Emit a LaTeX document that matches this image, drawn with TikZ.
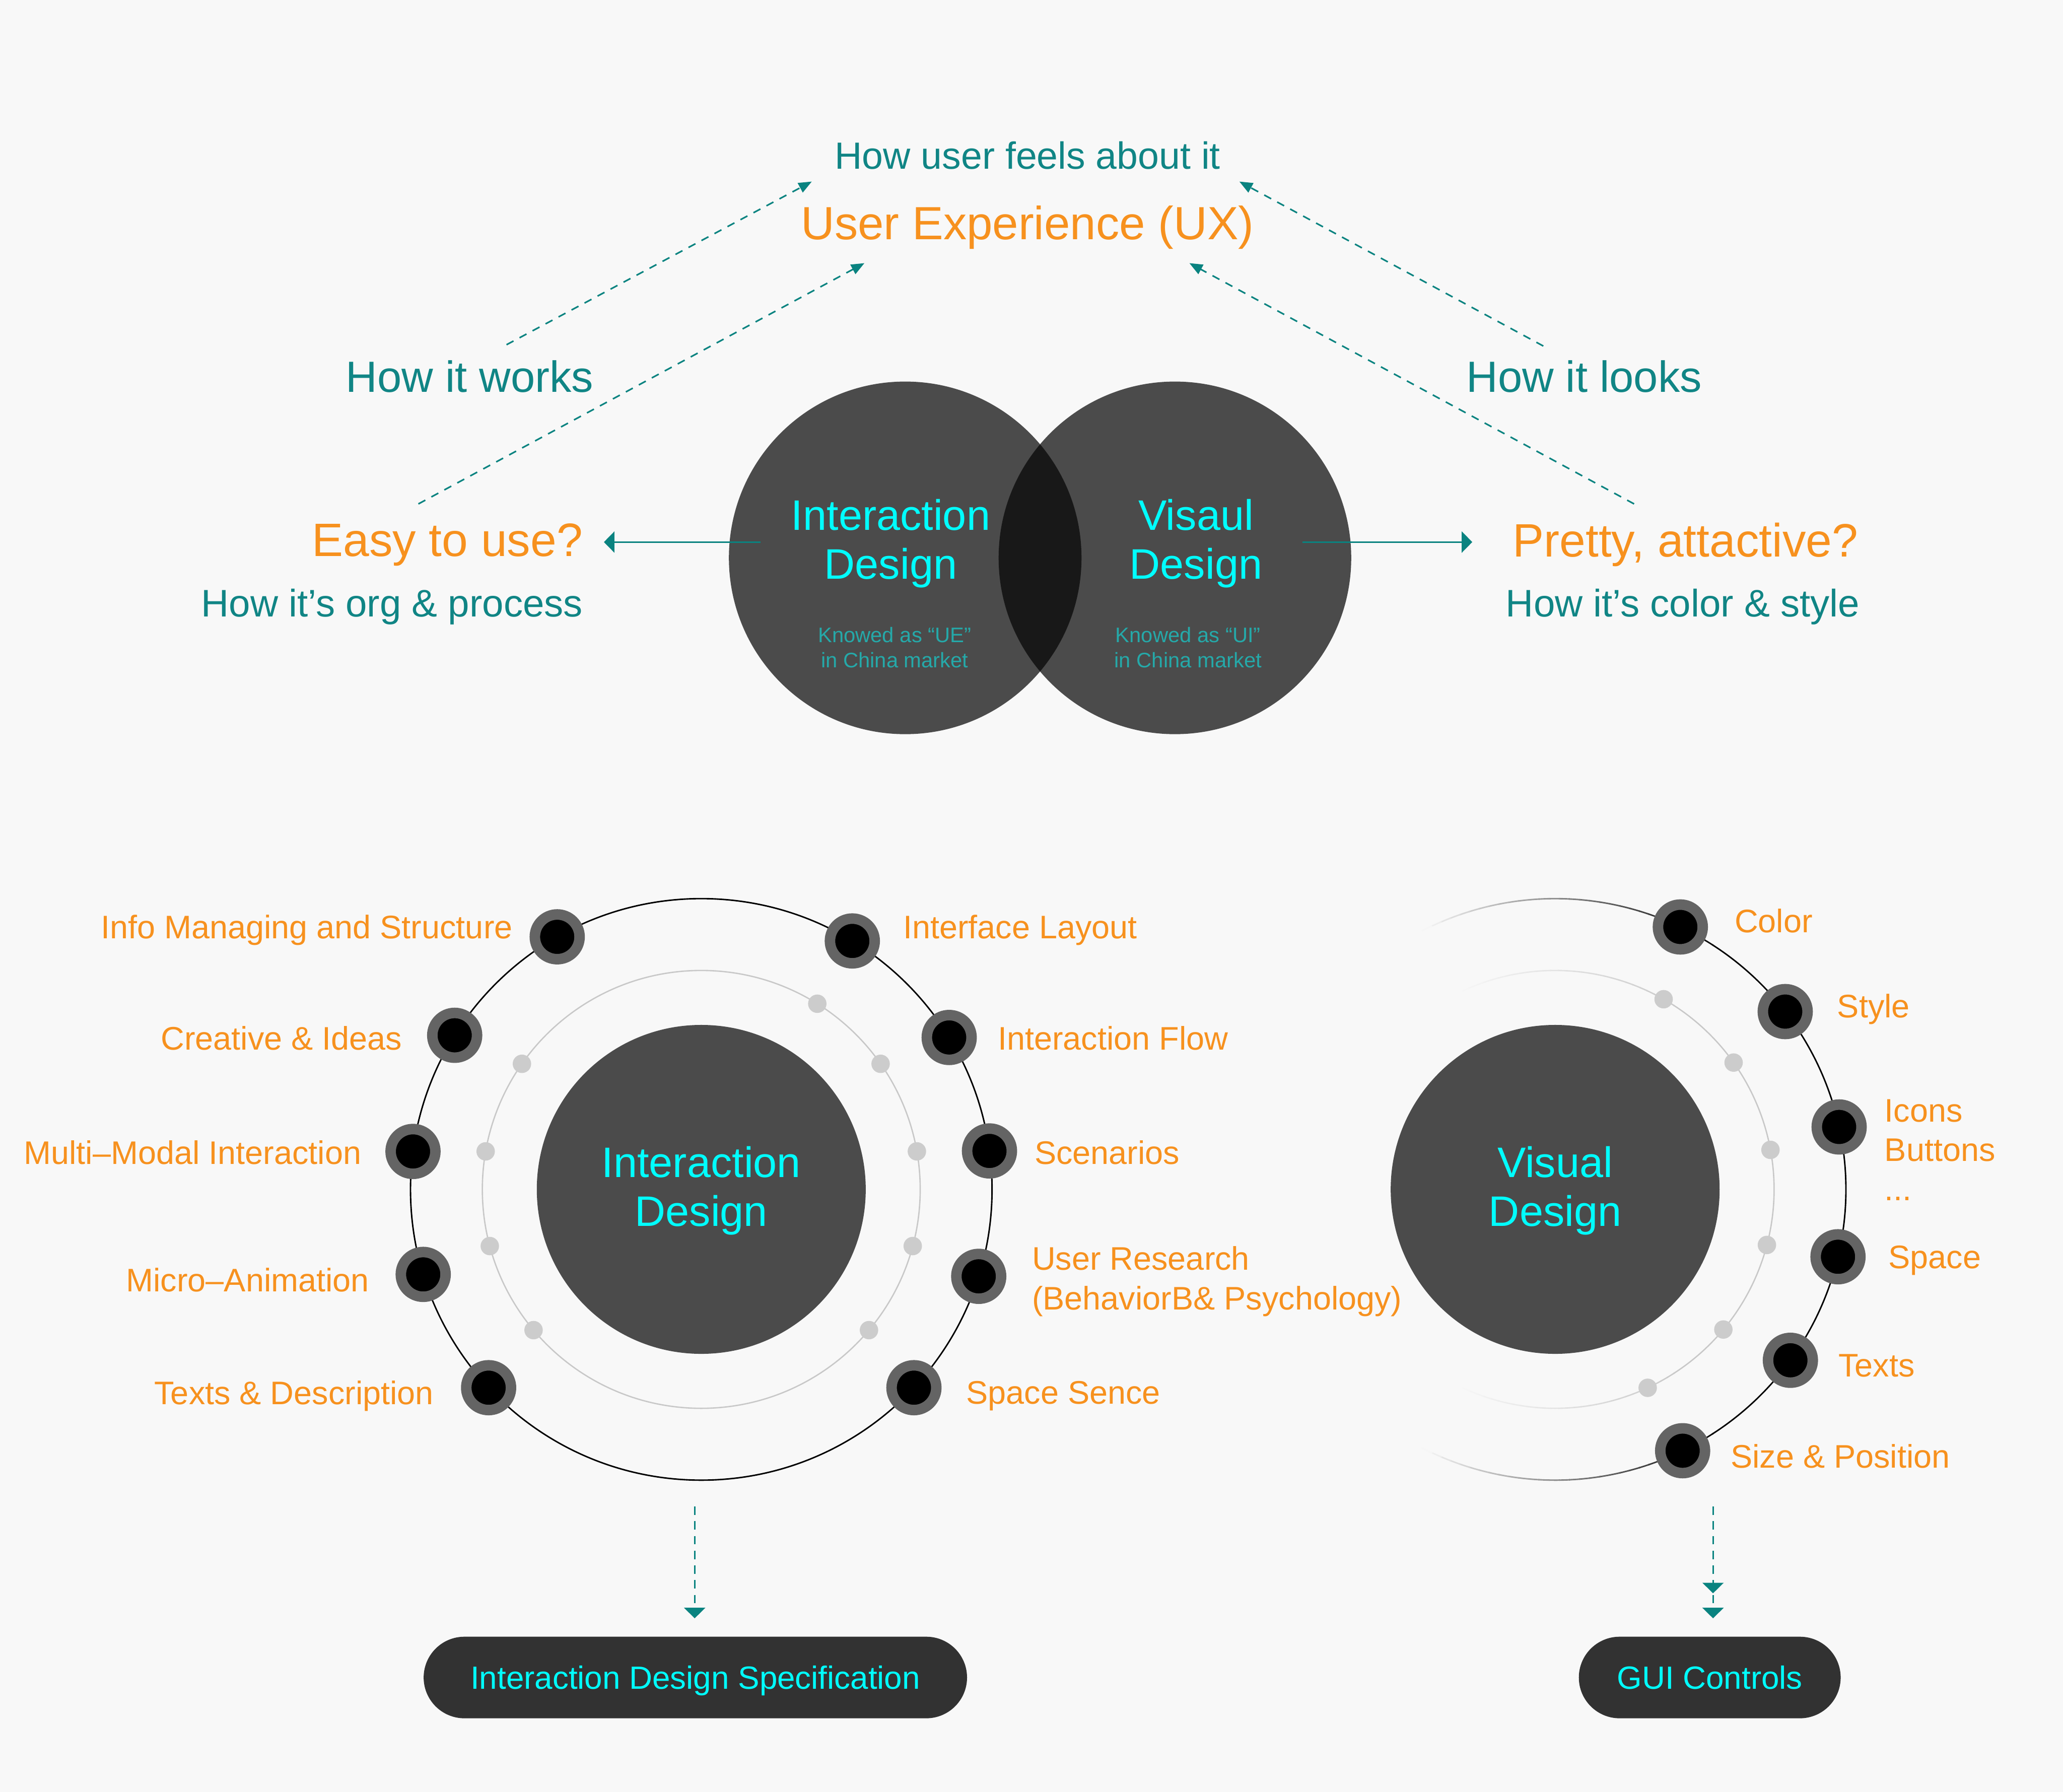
\documentclass[tikz,border=0pt]{standalone}
\usepackage{fontspec}
\setmainfont{Liberation Sans}
\usetikzlibrary{arrows.meta,calc}
\definecolor{bg}{HTML}{F8F8F8}
\definecolor{orng}{HTML}{F7911E}
\definecolor{tealc}{HTML}{0A8380}
\definecolor{tealtx}{HTML}{108585}
\definecolor{cyanc}{HTML}{00FFFF}
\definecolor{knowc}{HTML}{25A9A9}
\definecolor{disc}{HTML}{4B4B4B}
\definecolor{venx}{HTML}{181818}
\definecolor{ringc}{HTML}{646464}
\definecolor{dotc}{HTML}{CCCCCC}
\definecolor{innerc}{HTML}{C8C8C8}
\definecolor{pillc}{HTML}{323232}
\tikzset{
  lbl/.style={text=orng,font=\fontsize{12.4}{15}\selectfont,inner sep=0pt},
  ringnode/.style={circle,fill=black,draw=ringc,line width=4pt,minimum size=17pt,inner sep=0pt},
  dotnode/.style={circle,fill=dotc,minimum size=7pt,inner sep=0pt},
  dashconn/.style={draw=tealc,line width=0.6pt,dash pattern=on 3pt off 2.6pt,-{Triangle[length=5pt,width=4pt]}},
  solidconn/.style={draw=tealc,line width=0.63pt,-{Triangle[length=4pt,width=8pt]}},
  downconn/.style={draw=tealc,line width=0.6pt,dash pattern=on 3.2pt off 2.4pt,-{Triangle[length=4pt,width=8pt]}},
  pill/.style={fill=pillc,rounded corners=15.5pt,minimum height=31pt,text=cyanc,font=\fontsize{12.2}{14}\selectfont,inner sep=0pt,text height=8.8pt,text depth=0pt},
  bigtxt/.style={text=cyanc,font=\fontsize{16.2}{18.5}\selectfont,align=center,inner sep=0pt},
  knowtxt/.style={text=knowc,font=\fontsize{8}{9.6}\selectfont,align=center,inner sep=0pt}
}
\begin{document}
\begin{tikzpicture}[x=0.5pt,y=-0.5pt]
\fill[bg] (0,0) rectangle (1568,1362);
\useasboundingbox (0,0) rectangle (1568,1362);

% ---------- top texts ----------
\node[text=tealtx,font=\fontsize{14.4}{16}\selectfont,inner sep=0pt] (feel) at (781,118) {How user feels about it};
\node[text=orng,font=\fontsize{17.7}{20}\selectfont,inner sep=0pt] (ux) at (781,173) {User Experience (UX)};
\node[text=tealtx,font=\fontsize{16.6}{18}\selectfont,inner sep=0pt] (works) at (357,286) {How it works};
\node[text=tealtx,font=\fontsize{16.6}{18}\selectfont,inner sep=0pt] (looks) at (1204,286) {How it looks};
\node[text=orng,font=\fontsize{17.8}{20}\selectfont,inner sep=0pt] (easy) at (340,414) {Easy to use?};
\node[text=tealtx,font=\fontsize{14.6}{16}\selectfont,inner sep=0pt] (org) at (298,461) {How it’s org \& process};
\node[text=orng,font=\fontsize{17.8}{20}\selectfont,inner sep=0pt] (pretty) at (1281,414) {Pretty, attactive?};
\node[text=tealtx,font=\fontsize{14.6}{16}\selectfont,inner sep=0pt] (colst) at (1279,461) {How it’s color \& style};

\coordinate (w1) at (385,262);
\coordinate (ux1) at (617,138);
\coordinate (e1) at (318,383);
\coordinate (ux2) at (657,200);
\coordinate (l1) at (1173,263);
\coordinate (ux3) at (942,138);
\coordinate (p1) at (1242,383);
\coordinate (ux4) at (904,200);
\draw[dashconn] (w1) -- (ux1);
\draw[dashconn] (e1) -- (ux2);
\draw[dashconn] (l1) -- (ux3);
\draw[dashconn] (p1) -- (ux4);

% ---------- Venn ----------
\coordinate (vl) at (688,424);
\coordinate (vr) at (893,424);
\fill[disc] (vl) circle (67pt);
\fill[disc] (vr) circle (67pt);
\begin{scope}
  \clip (vl) circle (67pt);
  \fill[venx] (vr) circle (67pt);
\end{scope}
\node[bigtxt] (vid) at (677,413) {Interaction\\Design};
\node[bigtxt] (vvd) at (909,413) {Visaul\\Design};
\node[knowtxt] (kue) at (680,492) {Knowed as “UE”\\in China market};
\node[knowtxt] (kui) at (903,492) {Knowed as “UI”\\in China market};
\coordinate (al) at (578,412);
\coordinate (alt) at (459,412);
\coordinate (ar) at (990,412);
\coordinate (art) at (1119,412);
\draw[solidconn] (al) -- (alt);
\draw[solidconn] (ar) -- (art);

% ---------- bottom left diagram ----------
\coordinate (c1) at (533,904);
\draw[black,line width=0.55pt] (c1) circle (110.5pt);
\draw[innerc,line width=0.5pt] (c1) circle (83.2pt);
\fill[disc] (c1) circle (62.5pt);
\node[bigtxt] (cid) at (533,905) {Interaction\\Design};
\foreach \a [count=\i] in {145,170,195,220,58,35,10,-15,-40}
  \node[dotnode] (ld\i) at ($(c1)+(\a:83.2pt)$) {};

\node[ringnode] (n1) at ($(c1)+(119.7:110.5pt)$) {};
\node[ringnode] (n2) at ($(c1)+(148:110.5pt)$) {};
\node[ringnode] (n3) at ($(c1)+(172.5:110.5pt)$) {};
\node[ringnode] (n4) at ($(c1)+(197:110.5pt)$) {};
\node[ringnode] (n5) at ($(c1)+(223:110.5pt)$) {};
\node[ringnode] (n6) at ($(c1)+(58.7:110.5pt)$) {};
\node[ringnode] (n7) at ($(c1)+(31.5:110.5pt)$) {};
\node[ringnode] (n8) at ($(c1)+(7.6:110.5pt)$) {};
\node[ringnode] (n9) at ($(c1)+(-17.4:110.5pt)$) {};
\node[ringnode] (n10) at ($(c1)+(-43:110.5pt)$) {};

\node[lbl,anchor=east] (t1) at (390,707) {Info Managing and Structure};
\node[lbl,anchor=east] (t2) at (306,789) {Creative \& Ideas};
\node[lbl,anchor=east] (t3) at (275,876) {Multi–Modal Interaction};
\node[lbl,anchor=east] (t4) at (281,973) {Micro–Animation};
\node[lbl,anchor=east] (t5) at (330,1061) {Texts \& Description};
\node[lbl,anchor=west] (t6) at (686,707) {Interface Layout};
\node[lbl,anchor=west] (t7) at (758,789) {Interaction Flow};
\node[lbl,anchor=west] (t8) at (786,876) {Scenarios};
\node[lbl,anchor=west,align=left] (t9) at (784,974) {User Research\\(BehaviorB\& Psychology)};
\node[lbl,anchor=west] (t10) at (734,1061) {Space Sence};

% ---------- bottom right diagram ----------
\coordinate (c2) at (1182,904);
\draw[black,line width=0.55pt] ($(c2)+(-55:110.5pt)$) arc[start angle=-55,end angle=55,radius=110.5pt];
\draw[innerc,line width=0.5pt] ($(c2)+(-55:83.2pt)$) arc[start angle=-55,end angle=55,radius=83.2pt];
\foreach \a in {55,57,...,115}{
  \pgfmathtruncatemacro\p{100*(116-\a)/61}
  \draw[black!\p!bg,line width=0.55pt] ($(c2)+(\a:110.5pt)$) arc[start angle=\a,end angle=\a+2.3,radius=110.5pt];
  \draw[black!\p!bg,line width=0.55pt] ($(c2)+(-\a:110.5pt)$) arc[start angle=-\a,end angle=-\a-2.3,radius=110.5pt];
  \draw[innerc!\p!bg,line width=0.5pt] ($(c2)+(\a:83.2pt)$) arc[start angle=\a,end angle=\a+2.3,radius=83.2pt];
  \draw[innerc!\p!bg,line width=0.5pt] ($(c2)+(-\a:83.2pt)$) arc[start angle=-\a,end angle=-\a-2.3,radius=83.2pt];
}
\fill[disc] (c2) circle (62.5pt);
\node[bigtxt] (cvd) at (1182,905) {Visual\\Design};
\foreach \a [count=\i] in {60.3,35.4,10.4,-14.7,-39.8,-65}
  \node[dotnode] (rd\i) at ($(c2)+(\a:83.2pt)$) {};

\node[ringnode] (m1) at ($(c2)+(64.5:110.5pt)$) {};
\node[ringnode] (m2) at ($(c2)+(37.7:110.5pt)$) {};
\node[ringnode] (m3) at ($(c2)+(12.4:110.5pt)$) {};
\node[ringnode] (m4) at ($(c2)+(-13.4:110.5pt)$) {};
\node[ringnode] (m5) at ($(c2)+(-36:110.5pt)$) {};
\node[ringnode] (m6) at ($(c2)+(-64:110.5pt)$) {};

\node[lbl,anchor=west] (s1) at (1318,700) {Color};
\node[lbl,anchor=west] (s2) at (1396,767) {Style};
\node[lbl,anchor=west,align=left] (s3) at (1432,874) {Icons\\Buttons\\...};
\node[lbl,anchor=west] (s4) at (1435,958) {Space};
\node[lbl,anchor=west] (s5) at (1397,1038) {Texts};
\node[lbl,anchor=west] (s6) at (1315,1107) {Size \& Position};

% ---------- outputs ----------
\node[pill,minimum width=206.5pt] (spec) at (528.5,1275) {Interaction Design Specification};
\node[pill,minimum width=99.5pt] (gui) at (1299.5,1275) {GUI Controls};
\coordinate (d1) at (528,1145);
\coordinate (d1t) at (528,1230);
\coordinate (d2) at (1302,1145);
\coordinate (d2m) at (1302,1211);
\coordinate (d2t) at (1302,1230);
\draw[downconn] (d1) -- (d1t);
\draw[downconn] (d2) -- (d2m);
\draw[downconn] (d2) -- (d2t);
\end{tikzpicture}
\end{document}
